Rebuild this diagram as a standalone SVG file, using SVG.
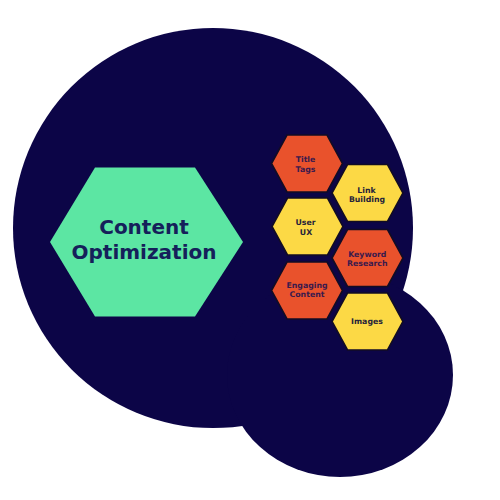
<svg xmlns="http://www.w3.org/2000/svg" width="500" height="500" viewBox="0 0 500 500">
<style>
.bg{fill:#0c0547}
.hex{stroke:#120c24;stroke-width:1.6;stroke-linejoin:miter}
.org{fill:#e9522c}
.yel{fill:#fcd945}
.lbl{font-family:"DejaVu Sans",sans-serif;font-weight:bold;font-size:7.8px;text-anchor:middle}
.lo{fill:#3a1a4c}
.ly{fill:#26233a}
.main{font-family:"DejaVu Sans",sans-serif;font-weight:bold;font-size:20px;text-anchor:middle;fill:#15205a}
</style>
<defs>
<polygon id="h" points="-35.5,0 -20,-28.5 20,-28.5 35.5,0 20,28.5 -20,28.5"/>
</defs>
<rect width="500" height="500" fill="#ffffff"/>
<g id="background">
<circle class="bg" cx="213" cy="228" r="200"/>
<ellipse class="bg" cx="340" cy="375" rx="113" ry="102"/>
</g>
<g id="connectors"></g>
<g id="content-optimization">
<polygon points="50,242 95,167.5 195,167.5 243,242 195,316.5 95,316.5" fill="#5ce6a3"/>
<text class="main" x="144" y="234">Content</text>
<text class="main" x="144" y="259">Optimization</text>
</g>
<g id="title-tags">
<use href="#h" x="307" y="163.5" class="hex org"/>
<text class="lbl lo" x="305.5" y="162.3">Title</text>
<text class="lbl lo" x="305.5" y="171.7">Tags</text>
</g>
<g id="link-building">
<use href="#h" x="367.5" y="193" class="hex yel"/>
<text class="lbl ly" x="366.5" y="192.5">Link</text>
<text class="lbl ly" x="367" y="202">Building</text>
</g>
<g id="user-ux">
<use href="#h" x="307.5" y="226.5" class="hex yel"/>
<text class="lbl ly" x="305.5" y="225">User</text>
<text class="lbl ly" x="306" y="234.5">UX</text>
</g>
<g id="keyword-research">
<use href="#h" x="367.5" y="258" class="hex org"/>
<text class="lbl lo" x="367.3" y="256.5">Keyword</text>
<text class="lbl lo" x="367.3" y="266">Research</text>
</g>
<g id="engaging-content">
<use href="#h" x="307" y="290.5" class="hex org"/>
<text class="lbl lo" x="307" y="287.5">Engaging</text>
<text class="lbl lo" x="307" y="297">Content</text>
</g>
<g id="images">
<use href="#h" x="367.5" y="321.5" class="hex yel"/>
<text class="lbl ly" x="367" y="323.5">Images</text>
</g>
</svg>
